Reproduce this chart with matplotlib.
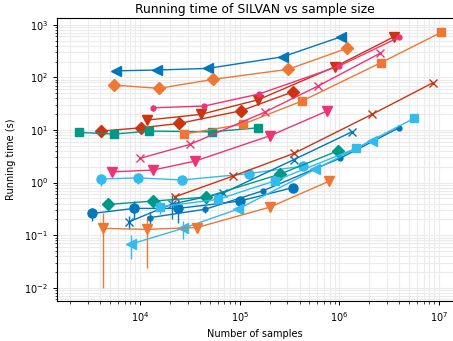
import matplotlib
matplotlib.use("Agg")
import matplotlib.pyplot as plt
from matplotlib.ticker import LogLocator, NullFormatter

BLUE = "#0077BB"; CYAN = "#33BBEE"; TEAL = "#009988"
ORANGE = "#EE7733"; RED = "#CC3311"; MAGENTA = "#EE3377"

# ---- data (sample size, running time in s, error) ----
x_blue_tri = [5.7e3, 1.48e4, 4.8e4, 2.7e5, 1.04e6]
y_blue_tri = [133, 138, 148, 246, 592]
e_blue_tri = [0, 0, 0, 0, 0]

x_orange_dia = [5.5e3, 1.55e4, 5.4e4, 3.05e5, 1.19e6]
y_orange_dia = [71.4, 61.8, 91.6, 142, 356]
e_orange_dia = [0, 0, 0, 0, 0]

x_pink_dot = [1.35e4, 4.39e4, 1.56e5, 9.9e5, 3.96e6]
y_pink_dot = [26.4, 28.5, 48.2, 164, 576]
e_pink_dot = [3.0, 0, 0, 0, 0]

x_red_v = [1.17e4, 4.09e4, 1.53e5, 9.03e5, 3.53e6]
y_red_v = [15.4, 19.8, 37.5, 159, 592]
e_red_v = [1.5, 0, 0, 0, 0]

x_red_dia = [4.06e3, 1.02e4, 2.46e4, 1.03e5, 3.43e5]
y_red_dia = [9.53, 11.0, 13.3, 23.2, 53.2]
e_red_dia = [0, 0, 0, 0, 0]

x_teal_sq = [2.45e3, 5.48e3, 1.23e4, 5.27e4, 1.53e5]
y_teal_sq = [9.0, 8.36, 9.53, 9.24, 11.0]
e_teal_sq = [0, 0, 0, 0, 0]

x_orange_sq = [2.76e4, 1.08e5, 4.2e5, 2.61e6, 1.05e7]
y_orange_sq = [8.36, 12.9, 35.4, 190, 717]
e_orange_sq = [0, 0, 0, 0, 0]

x_pink_x = [1.0e4, 3.17e4, 1.79e5, 6.1e5, 2.55e6]
y_pink_x = [2.89, 5.32, 21.9, 68.4, 286]
e_pink_x = [0, 0, 0, 0, 0]

x_pink_v = [5.24e3, 1.35e4, 3.56e4, 2.01e5, 7.51e5]
y_pink_v = [1.60, 1.73, 2.56, 7.76, 22.9]
e_pink_v = [0.1, 0, 0, 0, 0]

x_cyan_o = [4.06e3, 9.55e3, 2.64e4, 1.24e5, 4.31e5]
y_cyan_o = [1.17, 1.23, 1.12, 1.48, 2.06]
e_cyan_o = [0.3, 0.28, 0.1, 0, 0]

x_red_x = [2.24e4, 8.57e4, 3.5e5, 2.12e6, 8.68e6]
y_red_x = [0.537, 1.33, 3.59, 19.8, 78.9]
e_red_x = [0.04, 0, 0, 0, 0]

x_blue_x = [7.76e3, 2.09e4, 6.79e4, 3.5e5, 1.34e6]
y_blue_x = [0.180, 0.390, 0.631, 2.74, 9.24]
e_blue_x = [0.05, 0.19, 0.05, 0, 0]

x_teal_dia = [4.78e3, 1.35e4, 4.59e4, 2.54e5, 9.68e5]
y_teal_dia = [0.385, 0.445, 0.530, 1.45, 4.02]
e_teal_dia = [0.08, 0.05, 0.03, 0, 0]

x_blue_o = [3.3e3, 8.7e3, 2.4e4, 1.0e5, 3.43e5]
y_blue_o = [0.259, 0.323, 0.323, 0.445, 0.804]
e_blue_o = [0.075, 0.12, 0.15, 0.03, 0]

x_blue_dot = [1.26e4, 4.49e4, 1.71e5, 1.01e6, 3.96e6]
y_blue_dot = [0.216, 0.311, 0.698, 2.89, 11.0]
e_blue_dot = [0.055, 0.05, 0, 0, 0]

x_cyan_sq = [1.59e4, 6.05e4, 2.26e5, 1.47e6, 5.6e6]
y_cyan_sq = [0.347, 0.480, 1.08, 4.47, 16.6]
e_cyan_sq = [0.095, 0, 0, 0, 0]

x_cyan_tri = [8.1e3, 2.7e4, 9.6e4, 5.7e5, 2.12e6]
y_cyan_tri = [0.0677, 0.135, 0.313, 1.78, 6.29]
e_cyan_tri = [0.033, 0.05, 0, 0, 0]

x_orange_v = [4.26e3, 1.17e4, 3.73e4, 2.01e5, 7.87e5]
y_orange_v = [0.135, 0.129, 0.140, 0.342, 1.06]
e_orange_v = [0.125, 0.105, 0.03, 0, 0]

series = [
    (x_blue_tri, y_blue_tri, e_blue_tri, BLUE, "<", 7),
    (x_orange_dia, y_orange_dia, e_orange_dia, ORANGE, "D", 6),
    (x_red_dia, y_red_dia, e_red_dia, RED, "D", 6),
    (x_teal_sq, y_teal_sq, e_teal_sq, TEAL, "s", 6),
    (x_orange_sq, y_orange_sq, e_orange_sq, ORANGE, "s", 6),
    (x_red_v, y_red_v, e_red_v, RED, "v", 7),
    (x_pink_dot, y_pink_dot, e_pink_dot, MAGENTA, ".", 7),
    (x_pink_x, y_pink_x, e_pink_x, MAGENTA, "x", 6),
    (x_pink_v, y_pink_v, e_pink_v, MAGENTA, "v", 7),
    (x_cyan_o, y_cyan_o, e_cyan_o, CYAN, "o", 6.5),
    (x_red_x, y_red_x, e_red_x, RED, "x", 6),
    (x_blue_x, y_blue_x, e_blue_x, BLUE, "x", 6),
    (x_teal_dia, y_teal_dia, e_teal_dia, TEAL, "D", 6),
    (x_blue_o, y_blue_o, e_blue_o, BLUE, "o", 6.5),
    (x_blue_dot, y_blue_dot, e_blue_dot, BLUE, ".", 7),
    (x_cyan_sq, y_cyan_sq, e_cyan_sq, CYAN, "s", 6),
    (x_cyan_tri, y_cyan_tri, e_cyan_tri, CYAN, "<", 7),
    (x_orange_v, y_orange_v, e_orange_v, ORANGE, "v", 7),
]

fig = plt.figure(figsize=(4.53, 3.41), dpi=100)
ax = fig.add_axes([0.126, 0.117, 0.874, 0.830])
ax.set_xscale("log")
ax.set_yscale("log")

for xs, ys, es, c, m, ms in series:
    ax.errorbar(xs, ys, yerr=es, color=c, marker=m, ms=ms, lw=1.0,
                elinewidth=1.0, capsize=0, zorder=3)

ax.set_xlim(1471, 1.38e7)
ax.set_ylim(0.00559, 1340)

ax.xaxis.set_major_locator(LogLocator(base=10, numticks=20))
ax.xaxis.set_minor_locator(LogLocator(base=10, subs=range(2, 10), numticks=100))
ax.yaxis.set_major_locator(LogLocator(base=10, numticks=20))
ax.yaxis.set_minor_locator(LogLocator(base=10, subs=range(2, 10), numticks=100))
ax.xaxis.set_minor_formatter(NullFormatter())
ax.yaxis.set_minor_formatter(NullFormatter())

ax.grid(True, which="both", color="#ebebeb", lw=0.8, zorder=0)
ax.set_axisbelow(True)
ax.spines["right"].set_visible(False)
for s in ["left", "bottom", "top"]:
    ax.spines[s].set_linewidth(0.8)
ax.tick_params(labelsize=7, length=3, width=0.7)
ax.tick_params(which="minor", length=1.8, width=0.5)

ax.set_title("Running time of SILVAN vs sample size", fontsize=8.9, pad=4)
ax.set_xlabel("Number of samples", fontsize=7)
ax.set_ylabel("Running time (s)", fontsize=7, labelpad=6)

fig.savefig("out.png", dpi=100)
